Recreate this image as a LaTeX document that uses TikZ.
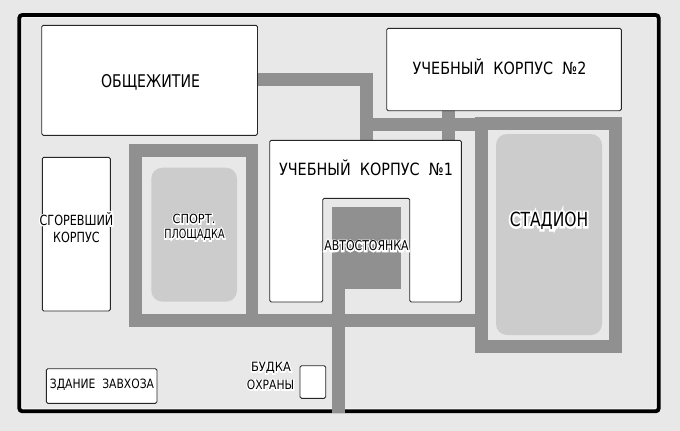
\documentclass[tikz,border=0pt]{standalone}
\usepackage{fontspec}
\setmainfont{DejaVu Sans}
\newfontfamily\halofont[FakeBold=20]{DejaVu Sans}
\newcommand\st[2]{\addfontfeature{FakeStretch=#1}#2}
\newcommand\halo[2]{\leavevmode\rlap{\halofont\addfontfeature{FakeStretch=#1}\color{white}#2}\addfontfeature{FakeStretch=#1}#2}
\definecolor{bgc}{HTML}{E8E8E8}
\definecolor{roadc}{HTML}{909090}
\definecolor{fieldc}{HTML}{CCCCCC}
\tikzset{
  road/.style={draw=roadc,line width=12.6pt,line cap=butt,line join=miter},
  bld/.style={draw=black!85,fill=white,line width=0.9pt,rounded corners=1.5pt},
  field/.style={fill=fieldc,rounded corners=11pt},
  lab/.style={text=black,inner sep=0pt,align=center,anchor=center},
}
\begin{document}
\begin{tikzpicture}[x=1pt,y=-1pt]
\useasboundingbox (0,0) rectangle (680,431);
\fill[bgc] (0,0) rectangle (680,431);
% enclosure
\draw[white!60!bgc,line width=1pt,rounded corners=2pt] (21.8,17.5) rectangle (656.2,408.8);
\draw[black,line width=3.8pt,rounded corners=3pt] (19.3,15) rectangle (658.7,411.3);
% roads
\draw[road] (258,79.7) -- (366.3,79.7) -- (366.3,141);
\draw[road] (360,124.4) -- (487,124.4);
\draw[road] (448.3,110) -- (448.3,141);
\draw[road] (481.3,123.7) rectangle (615.2,346.3);
\draw[road] (135.6,150.5) rectangle (252,320.3);
\draw[road] (252,320.3) -- (481.3,320.3);
\draw[road] (338.6,280) -- (338.6,413.4);
\fill[roadc] (332.3,207.3) rectangle (400.7,289.3);
% fields
\fill[field] (151.3,167.7) rectangle (237,301.7);
\fill[field] (496,134) rectangle (602,335);
% buildings
\draw[bld] (41.7,25.3) rectangle (257.5,135.3);
\draw[bld] (386.7,28.3) rectangle (621.3,110.7);
\draw[bld] (42.3,157.3) rectangle (110.3,311);
\draw[bld] (300,365.7) rectangle (325.7,398.3);
\draw[bld] (46.3,368.7) rectangle (157,403.3);
\draw[bld] (269.7,140.3) -- (461.3,140.3) -- (461.3,302) -- (409.7,302) -- (409.7,198.3) -- (322.7,198.3) -- (322.7,302) -- (269.7,302) -- cycle;
% labels
\node[lab,font=\fontsize{17.5}{20}\selectfont] (dorm) at (150.5,82) {\st{.806}{ОБЩЕЖИТИЕ}};
\node[lab,font=\fontsize{16.9}{20}\selectfont] (corp2) at (499.5,67) {\st{.85}{УЧЕБНЫЙ\ \ КОРПУС\ \ №2}};
\node[lab,font=\fontsize{16.9}{20}\selectfont] (corp1) at (366,168) {\st{.85}{УЧЕБНЫЙ\ \ КОРПУС\ \ №1}};
\node[lab,font=\fontsize{19.5}{22}\selectfont] (stad) at (549,221) {\halo{.795}{СТАДИОН}};
\node[lab,font=\fontsize{14}{16}\selectfont] (burn1) at (76.5,219) {\halo{.8}{СГОРЕВШИЙ}};
\node[lab,font=\fontsize{14}{16}\selectfont] (burn2) at (76.5,237) {\halo{.8}{КОРПУС}};
\node[lab,font=\fontsize{12.6}{15}\selectfont] (sp1) at (194,219) {\halo{.9}{СПОРТ.}};
\node[lab,font=\fontsize{12.7}{15}\selectfont] (sp2) at (194.5,235) {\halo{.76}{ПЛОЩАДКА}};
\node[lab,font=\fontsize{13.5}{16}\selectfont] (park) at (366.5,246) {\halo{.81}{АВТОСТОЯНКА}};
\node[lab,font=\fontsize{12.8}{15}\selectfont] (bo1) at (271,368) {\halo{.9}{БУДКА}};
\node[lab,font=\fontsize{12.8}{15}\selectfont] (bo2) at (270.5,385) {\halo{.84}{ОХРАНЫ}};
\node[lab,font=\fontsize{12.8}{15}\selectfont] (zd) at (102,385) {\st{.84}{ЗДАНИЕ\ \ ЗАВХОЗА}};
\end{tikzpicture}
\end{document}
